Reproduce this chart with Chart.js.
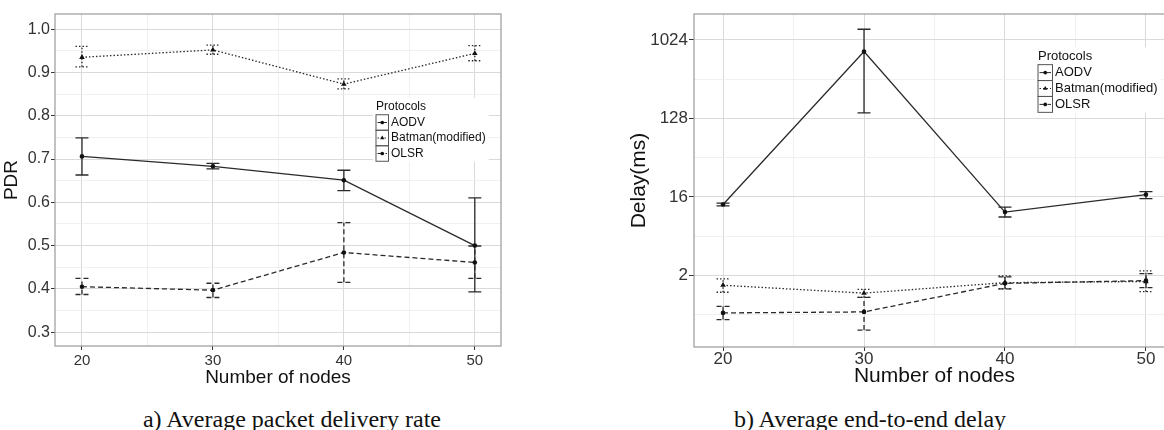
<!DOCTYPE html>
<html>
<head>
<meta charset="utf-8">
<script src="https://cdn.jsdelivr.net/npm/chart.js@4.4.0/dist/chart.umd.min.js"></script>
<style>
  body { margin: 0; width: 1164px; height: 430px; overflow: hidden; background: #fff; position: relative; }
  canvas { position: absolute; top: 0; }
  #c1 { left: 0; }
  #c2 { left: 580px; }
  .cap { position: absolute; top: 407px; width: 400px; text-align: center; white-space: nowrap;
         font-family: "Liberation Serif", "Times New Roman", serif; font-size: 24px; line-height: 24px; color: #111; }
</style>
</head>
<body>
<canvas id="c1" width="580" height="390"></canvas>
<canvas id="c2" width="600" height="390"></canvas>
<div class="cap" style="left:92px">a) Average packet delivery rate</div>
<div class="cap" style="left:670px">b) Average end-to-end delay</div>
<script>
// ---------- data ----------
const nodes = [20, 30, 40, 50];
const protocols = ['AODV', 'Batman(modified)', 'OLSR'];

// a) packet delivery rate
const pdrAodv     = [0.706, 0.683, 0.651, 0.500];
const pdrAodvLo   = [0.663, 0.677, 0.627, 0.393];
const pdrAodvHi   = [0.749, 0.690, 0.674, 0.610];
const pdrBatman   = [0.935, 0.952, 0.873, 0.944];
const pdrBatmanLo = [0.913, 0.942, 0.862, 0.927];
const pdrBatmanHi = [0.960, 0.963, 0.885, 0.962];
const pdrOlsr     = [0.405, 0.397, 0.484, 0.461];
const pdrOlsrLo   = [0.387, 0.380, 0.415, 0.424];
const pdrOlsrHi   = [0.424, 0.413, 0.553, 0.499];

// b) end-to-end delay (ms)
const delayAodv     = [13.1, 752, 10.7, 17.0];
const delayAodvLo   = [12.6, 148, 9.4, 15.3];
const delayAodvHi   = [13.6, 1360, 12.2, 18.4];
const delayBatman   = [1.54, 1.25, 1.65, 1.70];
const delayBatmanLo = [1.28, 1.12, 1.40, 1.30];
const delayBatmanHi = [1.82, 1.38, 1.98, 2.25];
const delayOlsr     = [0.74, 0.76, 1.62, 1.74];
const delayOlsrLo   = [0.62, 0.47, 1.40, 1.45];
const delayOlsrHi   = [0.88, 1.12, 1.92, 2.10];

// tick labels
const nodeTicks  = [20, 30, 40, 50];
const pdrTicks   = [0.3, 0.4, 0.5, 0.6, 0.7, 0.8, 0.9, 1.0];
const delayTicks = [2, 16, 128, 1024];

// ---------- styling ----------
Chart.defaults.font.family = '"Liberation Sans", Arial, sans-serif';
const lineColor = '#2a2a2a';
const styles = [
  { dash: [],       point: 'circle',   r: 2.3 },
  { dash: [1.5, 2], point: 'triangle', r: 3.2 },
  { dash: [5, 3],   point: 'circle',   r: 2.3 }
];

function makeSets(vals, los, his) {
  return vals.map((v, k) => ({
    label: protocols[k],
    data: nodes.map((n, i) => ({ x: n, y: v[i] })),
    lo: los[k],
    hi: his[k],
    borderColor: lineColor,
    borderWidth: 1.3,
    borderDash: styles[k].dash,
    pointStyle: styles[k].point,
    pointRadius: styles[k].r,
    pointBackgroundColor: '#111',
    pointBorderColor: '#111',
    pointBorderWidth: 0,
    fill: false,
    tension: 0
  }));
}

// majors plus a minor line half way between (arithmetic or geometric)
function withMinor(majors, mid) {
  const out = [];
  majors.forEach((v, i) => {
    out.push({ value: v, major: true });
    if (i < majors.length - 1) out.push({ value: mid(v, majors[i + 1]), major: false });
  });
  return out;
}

// error bars, drawn through the chart scales
const errorBars = {
  id: 'errorBars',
  beforeDatasetsDraw(chart, args, o) {
    const ctx = chart.ctx, xs = chart.scales.x, ys = chart.scales.y;
    ctx.save();
    chart.data.datasets.forEach(ds => {
      ctx.strokeStyle = ds.borderColor;
      ctx.lineWidth = 1.3;
      ctx.setLineDash(ds.borderDash);
      ds.data.forEach((p, i) => {
        const x = xs.getPixelForValue(p.x);
        const y1 = ys.getPixelForValue(ds.lo[i]);
        const y2 = ys.getPixelForValue(ds.hi[i]);
        ctx.beginPath();
        ctx.moveTo(x, y1); ctx.lineTo(x, y2);
        ctx.moveTo(x - o.cap, y1); ctx.lineTo(x + o.cap, y1);
        ctx.moveTo(x - o.cap, y2); ctx.lineTo(x + o.cap, y2);
        ctx.stroke();
      });
    });
    ctx.restore();
  }
};

// panel border (ggplot theme_bw)
const frame = {
  id: 'frame',
  beforeDatasetsDraw(chart) {
    const a = chart.chartArea, ctx = chart.ctx;
    ctx.save();
    ctx.strokeStyle = '#9a9a9a';
    ctx.lineWidth = 1.2;
    ctx.strokeRect(a.left, a.top, a.right - a.left, a.bottom - a.top);
    ctx.restore();
  }
};

// boxed legend inside the panel
const boxLegend = {
  id: 'boxLegend',
  afterDatasetsDraw(chart, args, o) {
    const ctx = chart.ctx;
    const items = chart.data.datasets;
    ctx.save();
    ctx.font = o.size + 'px "Liberation Sans", Arial, sans-serif';
    ctx.textBaseline = 'middle';
    const w = o.boxW + o.gap + Math.max(...items.map(d => ctx.measureText(d.label).width)) + 6;
    ctx.fillStyle = '#fff';
    ctx.fillRect(o.x - 3, o.y - o.rowH * 0.6, w, o.rowH * (items.length + 1) + 2);
    ctx.fillStyle = '#111';
    ctx.fillText('Protocols', o.x, o.y);
    items.forEach((d, i) => {
      const cy = o.y + o.rowH * (i + 1);
      ctx.strokeStyle = '#555';
      ctx.lineWidth = 1;
      ctx.setLineDash([]);
      ctx.strokeRect(o.x, cy - o.rowH / 2, o.boxW, o.rowH);
      ctx.strokeStyle = d.borderColor;
      ctx.setLineDash(d.borderDash);
      ctx.beginPath();
      ctx.moveTo(o.x + 1.5, cy);
      ctx.lineTo(o.x + o.boxW - 1.5, cy);
      ctx.stroke();
      ctx.setLineDash([]);
      ctx.fillStyle = '#111';
      Chart.helpers.drawPoint(ctx, { pointStyle: d.pointStyle, radius: d.pointRadius * 0.8, borderWidth: 0, rotation: 0 }, o.x + o.boxW / 2, cy);
      ctx.fillText(d.label, o.x + o.boxW + o.gap, cy);
    });
    ctx.restore();
  }
};

function makeChart(id, c) {
  return new Chart(document.getElementById(id), {
    type: 'line',
    data: { datasets: c.sets },
    plugins: [frame, errorBars, boxLegend],
    options: {
      responsive: false,
      animation: false,
      layout: { padding: c.pad },
      plugins: {
        legend: { display: false },
        tooltip: { enabled: false },
        errorBars: { cap: 6.5 },
        boxLegend: c.legend
      },
      scales: {
        x: {
          type: 'linear',
          bounds: 'data',
          min: c.xMin,
          max: c.xMax,
          afterBuildTicks: s => { s.ticks = withMinor(nodeTicks, (a, b) => (a + b) / 2); },
          afterFit: s => { s.height = c.xH; },
          border: { display: false },
          grid: {
            color: t => t.tick && t.tick.major ? '#dadada' : '#ececec',
            lineWidth: t => t.tick && t.tick.major ? 1 : 0.8,
            tickColor: t => t.tick && t.tick.major ? '#333' : 'rgba(0,0,0,0)',
            tickLength: 4
          },
          ticks: {
            autoSkip: false, maxRotation: 0, color: '#333',
            padding: c.xPad,
            font: { size: c.tickSize, lineHeight: 1 },
            callback: (v, i, t) => t[i].major ? String(v) : ''
          },
          title: {
            display: true, text: 'Number of nodes', color: '#111',
            font: { size: c.titleSize, lineHeight: 1.2 },
            padding: { top: 0, bottom: 1 }
          }
        },
        y: c.y
      }
    }
  });
}

// ---------- a) PDR ----------
makeChart('c1', {
  sets: makeSets([pdrAodv, pdrBatman, pdrOlsr], [pdrAodvLo, pdrBatmanLo, pdrOlsrLo], [pdrAodvHi, pdrBatmanHi, pdrOlsrHi]),
  pad: { top: 14, right: 79, bottom: 0, left: 0 },
  xMin: 17.94, xMax: 52.0, xH: 44, xPad: 3.5, tickSize: 15, titleSize: 19,
  legend: { x: 376, y: 107, rowH: 15.5, boxW: 12.5, gap: 2.5, size: 12 },
  y: {
    type: 'linear',
    bounds: 'data',
    min: 0.268,
    max: 1.035,
    afterBuildTicks: s => { s.ticks = withMinor(pdrTicks, (a, b) => (a + b) / 2); },
    afterFit: s => { s.width = 55; },
    border: { display: false },
    grid: {
      color: t => t.tick && t.tick.major ? '#dadada' : '#ececec',
      lineWidth: t => t.tick && t.tick.major ? 1 : 0.8,
      tickColor: t => t.tick && t.tick.major ? '#333' : 'rgba(0,0,0,0)',
      tickLength: 4
    },
    ticks: {
      autoSkip: false, color: '#333', padding: 1,
      font: { size: 16, lineHeight: 1 },
      callback: (v, i, t) => t[i].major ? v.toFixed(1) : ''
    },
    title: {
      display: true, text: 'PDR', color: '#111',
      font: { size: 19, lineHeight: 1.2 },
      padding: { top: 0, bottom: 0 }
    }
  }
});

// ---------- b) Delay ----------
makeChart('c2', {
  sets: makeSets([delayAodv, delayBatman, delayOlsr], [delayAodvLo, delayBatmanLo, delayOlsrLo], [delayAodvHi, delayBatmanHi, delayOlsrHi]),
  pad: { top: 14, right: 5, bottom: 0, left: 0 },
  xMin: 17.94, xMax: 52.06, xH: 43, xPad: 0, tickSize: 17, titleSize: 21,
  legend: { x: 458, y: 56.7, rowH: 15.9, boxW: 14.5, gap: 2.5, size: 13 },
  y: {
    type: 'logarithmic',
    min: 0.313,
    max: 2036,
    afterBuildTicks: s => { s.ticks = withMinor(delayTicks, (a, b) => Math.sqrt(a * b)).concat([{ value: Math.sqrt(0.5), major: false }]); },
    afterFit: s => { s.width = 114; },
    border: { display: false },
    grid: {
      color: t => t.tick && t.tick.major ? '#dadada' : '#ececec',
      lineWidth: t => t.tick && t.tick.major ? 1 : 0.8,
      tickColor: t => t.tick && t.tick.major ? '#333' : 'rgba(0,0,0,0)',
      tickLength: 5
    },
    ticks: {
      autoSkip: false, color: '#333', padding: 1,
      font: { size: 17, lineHeight: 1 },
      callback: (v, i, t) => t[i].major ? String(v) : ''
    },
    title: {
      display: true, text: 'Delay(ms)', color: '#111',
      font: { size: 21, lineHeight: 1.2 },
      padding: { top: 47, bottom: 0 }
    }
  }
});
</script>
</body>
</html>
